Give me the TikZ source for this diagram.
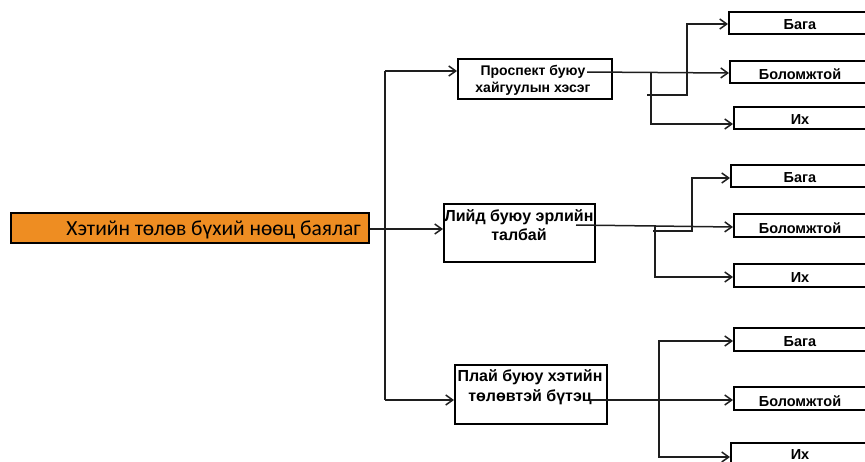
\documentclass[tikz,border=0pt]{standalone}
\usepackage{fontspec}
\setmainfont{Liberation Sans}
\newfontfamily\rootfont{Carlito}
\usetikzlibrary{arrows.meta}
\definecolor{rootfill}{RGB}{238,141,34}
\definecolor{wire}{RGB}{30,30,30}
\tikzset{
  box/.style={draw=black, line width=1.8pt, rectangle, anchor=north west, inner sep=0pt},
  midtext/.style={font=\bfseries\fontsize{14}{17}\selectfont, align=center, inner sep=0pt},
  bigmidtext/.style={midtext, font=\bfseries\fontsize{16}{18.5}\selectfont},
  leaftext/.style={font=\bfseries\fontsize{14.5}{16}\selectfont, inner sep=0pt},
  link/.style={draw=wire, line width=1.5pt},
  arr/.style={link, -{Straight Barb[length=7pt,width=10pt,line width=1.5pt]}}
}
\begin{document}
\begin{tikzpicture}[x=1pt, y=-1pt]
\useasboundingbox (0,0) rectangle (865,461);
\clip (0,0) rectangle (865,461);

% root
\node[box, fill=rootfill, minimum width=358, minimum height=30] (root) at (10,212) {};
\node[anchor=east, inner sep=0pt, font=\rootfont\fontsize{21.5}{23}\selectfont] (roottxt) at (361,230) {Хэтийн төлөв бүхий нөөц баялаг};

% second level
\node[box, minimum width=154, minimum height=40] (pros) at (457,58) {};
\node[midtext] (prostxt) at (533,80) {Проспект буюу\\хайгуулын хэсэг};
\node[box, minimum width=151, minimum height=58] (lead) at (443,203) {};
\node[bigmidtext] (leadtxt) at (519,225) {Лийд буюу эрлийн\\талбай};
\node[box, minimum width=152, minimum height=59] (play) at (454,364) {};
\node[bigmidtext, font=\bfseries\fontsize{16}{20}\selectfont] (playtxt) at (530,387) {Плай буюу хэтийн\\төлөвтэй бүтэц};

% leaves
\node[box, minimum width=144, minimum height=22] (gAs) at (728,11) {};
\node[leaftext] at (800,25) {Бага};
\node[box, minimum width=144, minimum height=22] (gAb) at (729,60) {};
\node[leaftext] at (800,74) {Боломжтой};
\node[box, minimum width=144, minimum height=22] (gAi) at (733,106) {};
\node[leaftext] at (800,120) {Их};

\node[box, minimum width=144, minimum height=22] (gBs) at (730,164) {};
\node[leaftext] at (800,178) {Бага};
\node[box, minimum width=144, minimum height=23] (gBb) at (733,213) {};
\node[leaftext] at (800,228) {Боломжтой};
\node[box, minimum width=144, minimum height=23] (gBi) at (733,263) {};
\node[leaftext] at (800,278) {Их};

\node[box, minimum width=144, minimum height=23] (gCs) at (733,327) {};
\node[leaftext] at (800,342) {Бага};
\node[box, minimum width=144, minimum height=23] (gCb) at (733,386) {};
\node[leaftext] at (800,401) {Боломжтой};
\node[box, minimum width=144, minimum height=30] (gCi) at (730,442) {};
\node[leaftext] at (800,455) {Их};

% trunk
\coordinate (tTop) at (385,71);
\coordinate (tBot) at (385,400);
\draw[link] (tTop) -- (tBot);
\draw[arr] (tTop) -- (pros.west |- tTop);
\draw[arr] (tBot) -- (play.west |- tBot);
\draw[arr] (root.east |- 0,229) -- (lead.west |- 0,229);

% first group
\draw[arr] (587,72) -- (gAb.west |- 0,73);
\draw[arr] (651,72) |- (gAi.west |- 0,124);
\draw[arr] (647,95) -- (687,95) |- (gAs.west |- 0,24);

% second group
\draw[arr] (576,225) -- (gBb.west |- 0,227);
\draw[arr] (655,225) |- (gBi.west |- 0,277);
\draw[arr] (653,231) -- (692,231) |- (gBs.west |- 0,178);

% third group
\draw[arr] (590,400) -- (gCb.west |- 0,400);
\draw[arr] (659,400) |- (gCs.west |- 0,341);
\draw[arr] (659,400) |- (gCi.west |- 0,457);
\end{tikzpicture}
\end{document}
